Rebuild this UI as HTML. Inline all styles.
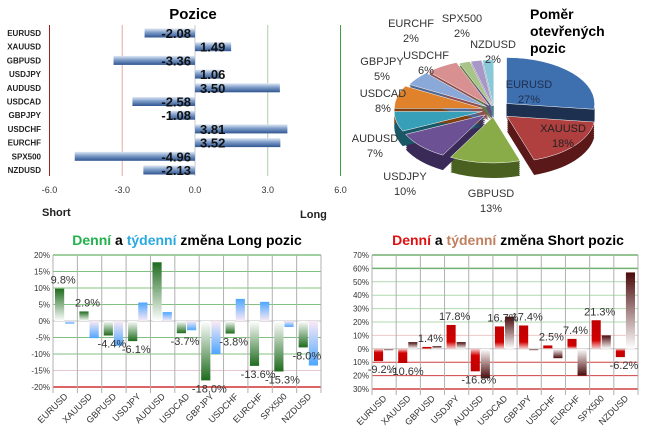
<!DOCTYPE html>
<html><head><meta charset="utf-8"><style>
html,body{margin:0;padding:0;background:#fff;}
svg{display:block;font-family:"Liberation Sans",sans-serif;}
</style></head><body>
<svg id="s" width="647" height="436" viewBox="0 0 647 436">
<defs>
<linearGradient id="bb" x1="0" y1="0" x2="0" y2="1"><stop offset="0" stop-color="#dfe8f5"/><stop offset="0.45" stop-color="#7d9cc8"/><stop offset="1" stop-color="#2f5590"/></linearGradient>
<linearGradient id="gUp" x1="0" y1="0" x2="0" y2="1"><stop offset="0" stop-color="#1e6b1e"/><stop offset="1" stop-color="#ffffff"/></linearGradient>
<linearGradient id="gDn" x1="0" y1="0" x2="0" y2="1"><stop offset="0" stop-color="#ffffff"/><stop offset="1" stop-color="#1e6b1e"/></linearGradient>
<linearGradient id="bUp" x1="0" y1="0" x2="0" y2="1"><stop offset="0" stop-color="#4da6ff"/><stop offset="1" stop-color="#fbeaf5"/></linearGradient>
<linearGradient id="bDn" x1="0" y1="0" x2="0" y2="1"><stop offset="0" stop-color="#fbeaf5"/><stop offset="1" stop-color="#4da6ff"/></linearGradient>
<linearGradient id="rUp" x1="0" y1="0" x2="0" y2="1"><stop offset="0" stop-color="#c00000"/><stop offset="0.7" stop-color="#d00000"/><stop offset="1" stop-color="#f6d0d0"/></linearGradient>
<linearGradient id="rDn" x1="0" y1="0" x2="0" y2="1"><stop offset="0" stop-color="#f6d0d0"/><stop offset="0.3" stop-color="#d00000"/><stop offset="1" stop-color="#c00000"/></linearGradient>
<linearGradient id="mUp" x1="0" y1="0" x2="0" y2="1"><stop offset="0" stop-color="#4a0a0a"/><stop offset="1" stop-color="#ffffff"/></linearGradient>
<linearGradient id="mDn" x1="0" y1="0" x2="0" y2="1"><stop offset="0" stop-color="#ffffff"/><stop offset="1" stop-color="#4a0a0a"/></linearGradient>
</defs>
<g id="top-left">
<text x="193" y="19" text-anchor="middle" font-size="15" font-weight="bold">Pozice</text>
<text x="42" y="216" font-size="11" font-weight="bold" fill="#222">Short</text>
<text x="300" y="218" font-size="11" font-weight="bold" fill="#222">Long</text>
</g>
<g id="pie">
<text font-size="14" font-weight="bold"><tspan x="530" y="19">Poměr</tspan><tspan x="530" y="36">otevřených</tspan><tspan x="530" y="53">pozic</tspan></text>
</g>
<g id="bl">
<text x="187" y="245" text-anchor="middle" font-size="14" font-weight="bold"><tspan fill="#22b14c">Denní</tspan> a <tspan fill="#29a9e0">týdenní</tspan> změna Long pozic</text>
</g>
<g id="br">
<text x="508" y="245" text-anchor="middle" font-size="14" font-weight="bold"><tspan fill="#e01010">Denní</tspan> a <tspan fill="#c08060">týdenní</tspan> změna Short pozic</text>
</g>
</svg>
<script>
const posCats = ["EURUSD","XAUUSD","GBPUSD","USDJPY","AUDUSD","USDCAD","GBPJPY","USDCHF","EURCHF","SPX500","NZDUSD"];
const posValues = [-2.08,1.49,-3.36,1.06,3.50,-2.58,-1.08,3.81,3.52,-4.96,-2.13];
const posTicks = [-6,-3,0,3,6];
const pieCats = ["EURUSD","XAUUSD","GBPUSD","USDJPY","AUDUSD","USDCAD","GBPJPY","USDCHF","EURCHF","SPX500","NZDUSD"];
const pieValues = [27,18,13,10,7,8,5,6,2,2,2];
const chgCats = ["EURUSD","XAUUSD","GBPUSD","USDJPY","AUDUSD","USDCAD","GBPJPY","USDCHF","EURCHF","SPX500","NZDUSD"];
const longDaily = [9.8,2.9,-4.4,-6.1,17.8,-3.7,-18.0,-3.8,-13.6,-15.3,-8.0];
const longWeekly = [-0.8,-5.2,-7.5,5.6,2.7,-2.8,-10.0,6.7,5.8,-1.8,-13.5];
const longTicks = [20,15,10,5,0,-5,-10,-15,-20];
const shortDaily = [-9.2,-10.6,1.4,17.8,-16.8,16.7,17.4,2.5,7.4,21.3,-6.2];
const shortWeekly = [-1,5,2,5,-22,24,-1,-7,-20,10,57];
const shortTicks = [70,60,50,40,30,20,10,0,-10,-20,-30];

const NS="http://www.w3.org/2000/svg";
function mk(parent,tag,attrs,txt){const e=document.createElementNS(NS,tag);for(const k in attrs)e.setAttribute(k,attrs[k]);if(txt!==undefined)e.textContent=txt;parent.appendChild(e);return e;}

(function(){
  const g=document.getElementById('top-left');
  const x=v=>195+v*24.25, y0=27, step=13.7;
  const lineCols={"-6":"#a02020","-3":"#e8a8a8","0":"#c8c8c8","3":"#a8d0a0","6":"#40a040"};
  posTicks.forEach(t=>{
    const l=mk(g,'line',{x1:x(t),x2:x(t),y1:25,y2:176,stroke:lineCols[t],'stroke-width':1});
    
    
    const tx=mk(g,'text',{x:x(t),y:193,'text-anchor':'middle','font-size':9,fill:'#333'},t.toFixed(1));
    
    
  });
  posCats.forEach((c,i)=>{
    const yc=y0+i*step+6, v=posValues[i];
    const lab=mk(g,'text',{x:41,y:yc+3,'text-anchor':'end','font-size':8,'font-weight':'bold',fill:'#222'},c);
    
    
    const r=mk(g,'rect',{x:Math.min(x(0),x(v)),y:yc-4.5,width:Math.abs(x(v)-x(0)),height:9,fill:'url(#bb)'});
    
    
    const t=mk(g,'text',{x:v<0?x(0)-4:x(0)+5,y:yc+5,'text-anchor':v<0?'end':'start','font-size':13,'font-weight':'bold',fill:'#111'},v.toFixed(2));
    
    
  });
})();

(function(){
  const g=document.getElementById('pie');
  const cols=["#3e6fae","#b04040","#8aac48","#6c5294","#37a0b8","#e0822c","#8aa8d8","#d89090","#a8c488","#a898c8","#88c8d8"];
  const dark=["#1e3050","#5a1818","#4a6020","#3a2a58","#1a5868","#804010","#506890","#905050","#607848","#605080","#508090"];
  const labs=[[529,88,'#1f2f4f'],[563,132,'#222'],[491,197],[405,180],[375,142],[383,97],[382,65],[426,59],[411,27],[462,22],[493,48]];
  const cx=494,cy=110,rx=88,ry=46,d=15;
  const total=pieValues.reduce((a,b)=>a+b,0);
  let a=-Math.PI/2;
  const sl=[];
  pieValues.forEach((v,i)=>{const a2=a+v/total*2*Math.PI;sl.push([a,a2]);a=a2;});
  const exp=[14,14,10,10,10,10,8,8,6,6,6];
  function path(i,dy){const[a1,a2]=sl[i];const m=(a1+a2)/2;const ox=Math.cos(m)*exp[i]*1.2,oy=Math.sin(m)*exp[i]*0.7;
    const X=t=>cx+ox+rx*Math.cos(t),Y=t=>cy+oy+dy+ry*Math.sin(t);
    return `M${cx+ox},${cy+oy+dy} L${X(a1)},${Y(a1)} A${rx},${ry} 0 ${a2-a1>Math.PI?1:0} 1 ${X(a2)},${Y(a2)} Z`;}
  pieValues.forEach((v,i)=>{for(let k=d;k>0;k-=2){const p=mk(g,'path',{d:path(i,k),fill:dark[i]});
    
    }});
  pieValues.forEach((v,i)=>{const p=mk(g,'path',{d:path(i,0),fill:cols[i],stroke:'#fff','stroke-width':0.5});
    
    });
  pieCats.forEach((c,i)=>{const L=labs[i];const t=mk(g,'text',{x:L[0],y:L[1],'text-anchor':'middle','font-size':11,fill:L[2]||'#333'});
    
    
    mk(t,'tspan',{x:L[0],dy:0},c);mk(t,'tspan',{x:L[0],dy:15},pieValues[i]+'%');});
})();

function changeChart(gid,x0,x1,yTop,yBot,vmax,vmin,ticks,daily,weekly,gridCol,gradD,gradW,labFmt,labelSkip){
  const g=document.getElementById(gid);
  const y=v=>yTop+(vmax-v)/(vmax-vmin)*(yBot-yTop);
  const w=(x1-x0)/chgCats.length;
  ticks.forEach(t=>{
    const l=mk(g,'line',{x1:x0,x2:x1,y1:y(t),y2:y(t),stroke:gridCol(t),'stroke-width':(t===vmax||t===vmin||t===60&&vmax===70)?1.5:1});
    
    
    const tx=mk(g,'text',{x:x0-3,y:y(t)+3,'text-anchor':'end','font-size':8,fill:'#333'},labFmt(t));
    
    
  });
  for(let i=0;i<=chgCats.length;i++){const l=mk(g,'line',{x1:x0+i*w,x2:x0+i*w,y1:yTop,y2:yBot+6,stroke:'#b0b0b0','stroke-width':1});
    
    }
  chgCats.forEach((c,i)=>{
    const cx=x0+i*w;
    const dv=daily[i],wv=weekly[i];
    const r1=mk(g,'rect',{x:cx+2,y:Math.min(y(0),y(dv)),width:w/2-3,height:Math.abs(y(dv)-y(0)),fill:dv>=0?gradD[0]:gradD[1]});
    
    
    const r2=mk(g,'rect',{x:cx+w/2,y:Math.min(y(0),y(wv)),width:w/2-3,height:Math.abs(y(wv)-y(0)),fill:wv>=0?gradW[0]:gradW[1]});
    
    
    if(!(labelSkip&&labelSkip(i))){
      const ly=dv>=0?y(dv)-5:y(dv)+12;
      const t=mk(g,'text',{x:cx+w/2-2,y:ly,'text-anchor':'middle','font-size':11,fill:'#333'},dv.toFixed(1)+'%');
      
      
    }
    const xl=mk(g,'text',{x:0,y:0,'text-anchor':'end','font-size':9,fill:'#333',transform:`translate(${cx+w/2+3},${yBot+10}) rotate(-45)`},c);
    
    
  });
}
changeChart('bl',53,321,255,387,20,-20,longTicks,longDaily,longWeekly,
  t=>t===-20?'#d03030':t===-15?'#e8c8d0':t===0?'#c0c0c0':'#80c080',
  ['url(#gUp)','url(#gDn)'],['url(#bUp)','url(#bDn)'],t=>t+'%',i=>i===4);
changeChart('br',372,638,255,389,70,-30,shortTicks,shortDaily,shortWeekly,
  t=>t>=60?'#70b070':t>=20?'#b0d8b0':t===10?'#f0c8c8':t===0?'#c0c0c0':'#d04040',
  ['url(#rUp)','url(#rDn)'],['url(#mUp)','url(#mDn)'],t=>Math.abs(t)+'%',null);
</script>
</body></html>
